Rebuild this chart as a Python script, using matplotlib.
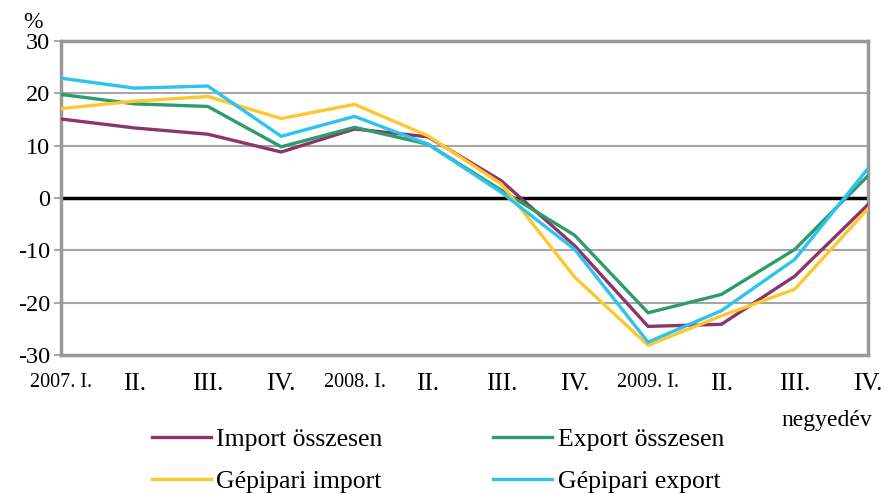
import numpy as np
import matplotlib.pyplot as plt

# negyedéves adatok, 2007. I. - 2009. IV.
quarters = ["2007. I.", "II.", "III.", "IV.", "2008. I.", "II.", "III.", "IV.",
            "2009. I.", "II.", "III.", "IV."]
import_total = [15.1, 13.4, 12.2, 8.8, 13.2, 11.7, 3.3, -9.1, -24.5, -24.1, -14.9, -1.2]
export_total = [19.8, 18.0, 17.5, 9.8, 13.5, 10.3, 1.5, -7.1, -21.9, -18.4, -9.8, 4.3]
machine_import = [17.1, 18.5, 19.4, 15.2, 17.9, 11.9, 2.7, -15.1, -28.1, -22.5, -17.4, -2.0]
machine_export = [22.9, 21.0, 21.4, 11.8, 15.6, 10.3, 1.1, -9.8, -27.5, -21.5, -11.7, 5.7]

labels = ["Import összesen", "Export összesen", "Gépipari import", "Gépipari export"]
colors = ["#8C3569", "#2E9B6A", "#FDC82F", "#2DC3EE"]

plt.rcParams['font.family'] = ['Liberation Serif', 'DejaVu Serif']
plt.rcParams['axes.unicode_minus'] = False

fig = plt.figure(figsize=(8.85, 4.94), dpi=100)
ax = fig.add_axes([0.069, 0.281, 0.912, 0.636])

x = np.arange(len(quarters))
lines = {}
for i, (s, c) in enumerate(zip([import_total, export_total, machine_import, machine_export], colors)):
    ln, = ax.plot(x, s, color=c, lw=2.4, label=labels[i], zorder=3 + i)
    lines[i] = ln

ax.axhline(0, color="black", lw=2.5, zorder=2)
ax.set_ylim(-30, 30)
ax.set_xlim(0, len(quarters) - 1)
ax.set_yticks(range(-30, 31, 10))
ax.yaxis.grid(True, color="#a6a6a6", lw=1.5)
ax.set_axisbelow(True)
for sp in ax.spines.values():
    sp.set_color("#999999")
    sp.set_linewidth(2.5)
ax.tick_params(axis="y", labelsize=17.5, length=5, width=1.2, color="#999999", pad=3)
ax.tick_params(axis="x", length=0, pad=13)
ax.set_xticks(x)
ax.set_xticklabels(quarters)
for t in ax.get_xticklabels():
    if t.get_text()[0].isdigit():
        t.set_fontsize(14.5)
    else:
        t.set_fontsize(18)

fig.text(0.026, 0.955, "%", fontsize=17, ha="left", va="center")
fig.text(0.985, 0.148, "negyedév", fontsize=17, ha="right", va="center")

handles = [lines[0], lines[2], lines[1], lines[3]]
fig.legend(handles, [h.get_label() for h in handles], ncol=2, frameon=False,
           loc="center", bbox_to_anchor=(0.495, 0.068), fontsize=18.5,
           handlelength=2.3, handletextpad=0.2, columnspacing=4.3, labelspacing=0.75)

fig.savefig("out.png", dpi=100)
